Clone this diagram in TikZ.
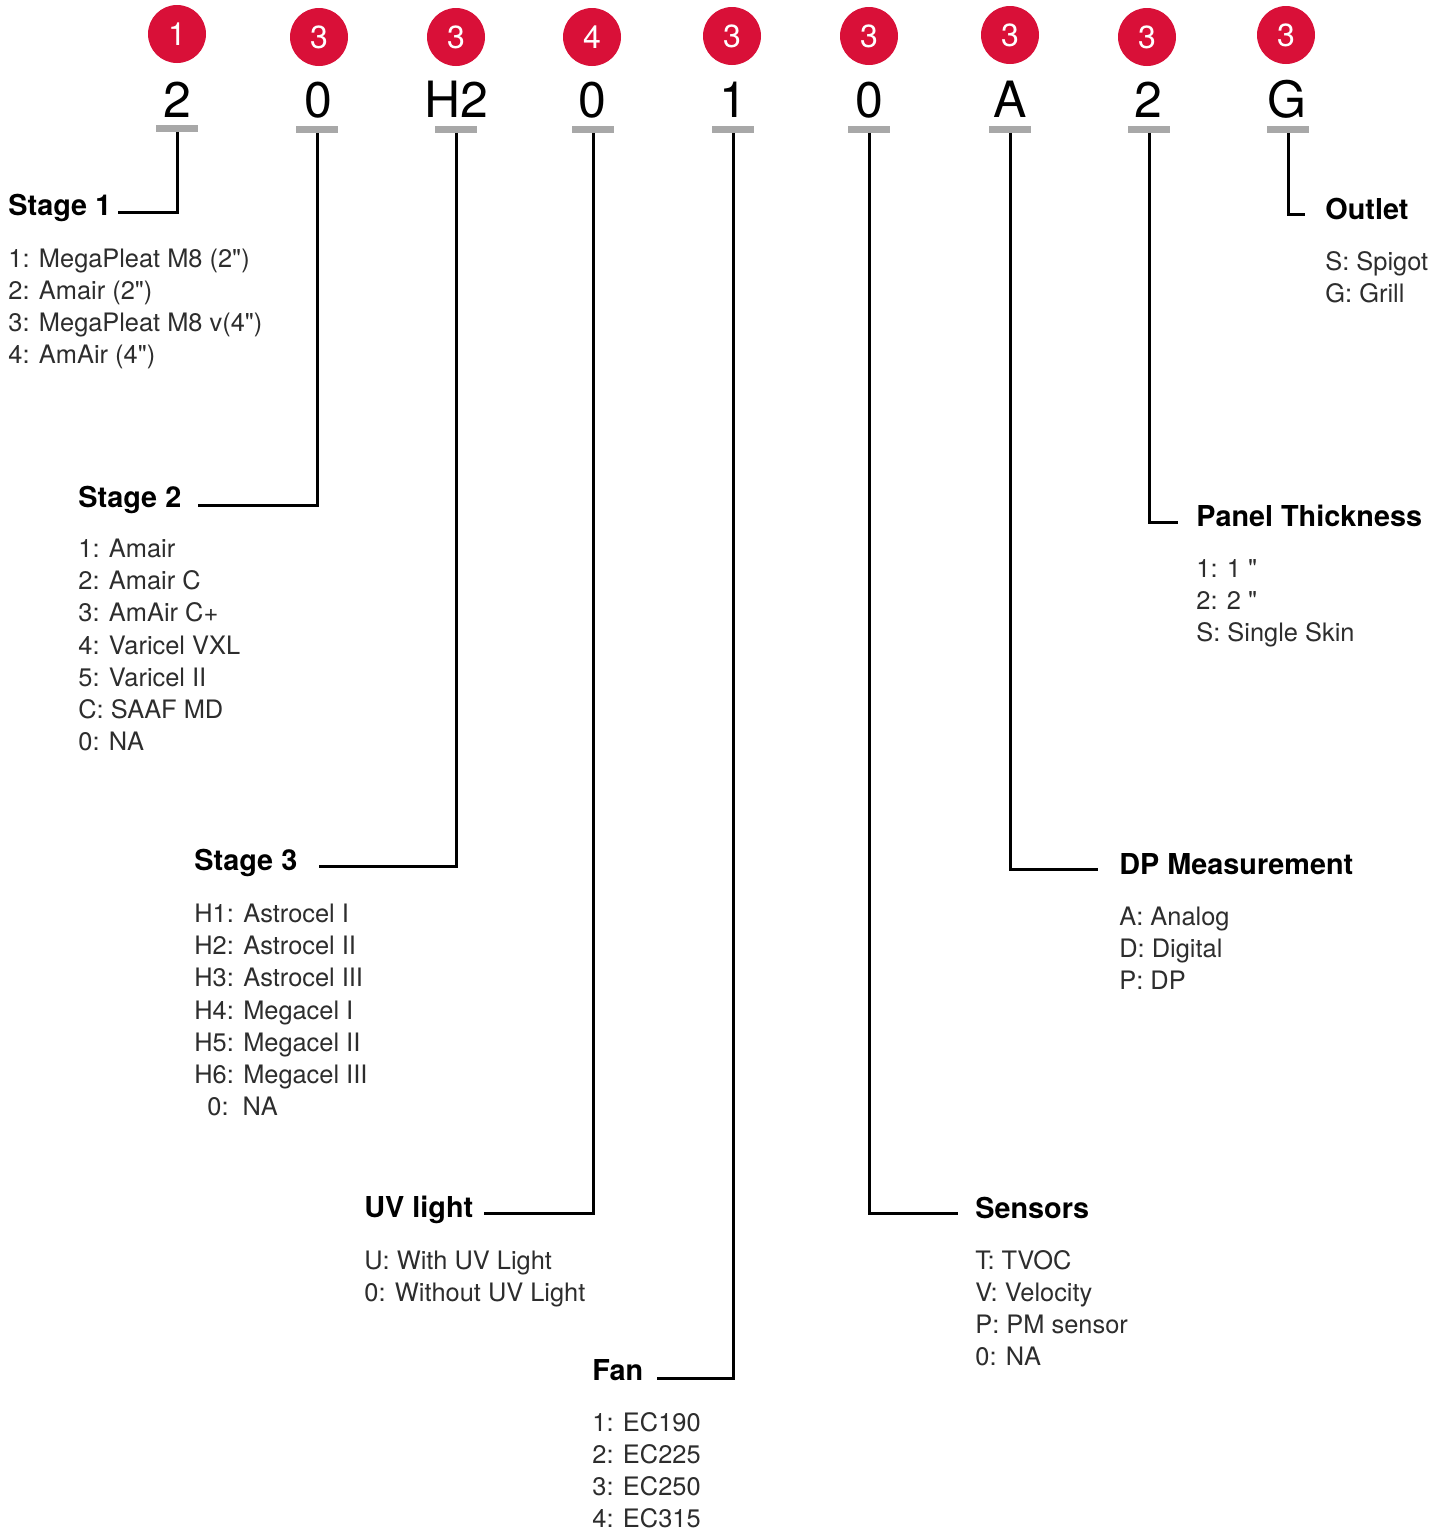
\documentclass[tikz,border=0pt]{standalone}
\usepackage{fontspec}
\setmainfont[Ligatures=TeXOff]{TeX Gyre Heros}
\definecolor{badgered}{RGB}{217,16,56}
\definecolor{bargray}{RGB}{168,168,168}
\definecolor{itemgray}{RGB}{45,45,45}
\tikzset{
  badge/.style={circle, fill=badgered, minimum size=29pt, inner sep=0pt, text=white, font=\fontsize{16}{16}\selectfont},
  codechar/.style={anchor=base, inner sep=0pt, font=\fontsize{25}{25}\selectfont},
  codebar/.style={rectangle, fill=bargray, minimum width=21pt, minimum height=3.5pt, inner sep=0pt},
  conn/.style={line width=1.5pt, black},
  grouptitle/.style={anchor=base west, inner sep=0pt, font=\fontsize{14.4}{14.4}\selectfont\bfseries},
  optitem/.style={anchor=base west, inner sep=0pt, text=itemgray, font=\fontsize{12.7}{12.7}\selectfont},
}
\newcommand{\optlist}[5]{%
  \foreach [count=\idx] \itm in {#5} {\node[optitem] (#1\idx) at ({#2},{#3+9.5+(\idx-1)*#4}) {\itm};}%
}
\begin{document}
\begin{tikzpicture}[x=0.5pt,y=-0.5pt]
\useasboundingbox[fill=white] (0,0) rectangle (1448,1533);

% badges
\node[badge] (b1) at (177,34) {1};
\node[badge] (b2) at (319,37) {3};
\node[badge] (b3) at (456,37) {3};
\node[badge] (b4) at (592,37) {4};
\node[badge] (b5) at (732,36) {3};
\node[badge] (b6) at (869,36) {3};
\node[badge] (b7) at (1010,35) {3};
\node[badge] (b8) at (1147,37) {3};
\node[badge] (b9) at (1286,35) {3};

% code characters
\node[codechar] (c1) at (177,117) {2};
\node[codechar] (c2) at (318,117) {0};
\node[codechar] (c3) at (456,117) {H2};
\node[codechar] (c4) at (592,117) {0};
\node[codechar] (c5) at (733,117) {1};
\node[codechar] (c6) at (869,117) {0};
\node[codechar] (c7) at (1010,117) {A};
\node[codechar] (c8) at (1148,117) {2};
\node[codechar] (c9) at (1287,117) {G};

% bars
\node[codebar] (r1) at (177,128) {};
\node[codebar] (r2) at (317,129) {};
\node[codebar] (r3) at (456,129) {};
\node[codebar] (r4) at (593,129) {};
\node[codebar] (r5) at (733,129) {};
\node[codebar] (r6) at (869,129) {};
\node[codebar] (r7) at (1010,129) {};
\node[codebar] (r8) at (1149,129) {};
\node[codebar] (r9) at (1288,129) {};

% titles
\node[grouptitle] (t1) at (8,215) {Stage 1};
\node[grouptitle] (t2) at (78,507) {Stage 2};
\node[grouptitle] (t3) at (194,870) {Stage 3};
\node[grouptitle] (t4) at (364,1217) {UV light};
\node[grouptitle] (t5) at (592,1380) {Fan};
\node[grouptitle] (t6) at (975,1218) {Sensors};
\node[grouptitle] (t7) at (1119,874) {DP Measurement};
\node[grouptitle] (t8) at (1196,526) {Panel Thickness};
\node[grouptitle] (t9) at (1325,219) {Outlet};

% connector ends
\coordinate (e1) at (118,212);
\coordinate (e2) at (198,505);
\coordinate (e3) at (319,866);
\coordinate (e4) at (484,1213);
\coordinate (e5) at (657,1378);
\coordinate (e6) at (958,1213);
\coordinate (e7) at (1098,869);
\coordinate (e8) at (1178,522);
\coordinate (e9) at (1305,214);

\foreach \i in {1,...,9} {\draw[conn] (r\i.south) |- (e\i);}

% option lists
\optlist{sa}{8}{258}{32}{1: MegaPleat M8 (2"),2: Amair (2"),3: MegaPleat M8 v(4"),4: AmAir (4")}
\optlist{sb}{78}{548}{32.2}{1: Amair,2: Amair C,3: AmAir C+,4: Varicel VXL,5: Varicel II,C: SAAF MD,0: NA}
\optlist{sc}{194}{913}{32.2}{H1: Astrocel I,H2: Astrocel II,H3: Astrocel III,H4: Megacel I,H5: Megacel II,H6: Megacel III}
\node[optitem] (sc7) at (207,1115.5) {0:\ \ NA};
\optlist{sd}{364}{1260}{32}{U: With UV Light,0: Without UV Light}
\optlist{se}{592}{1422}{32}{1: EC190,2: EC225,3: EC250,4: EC315}
\optlist{sf}{975}{1260}{32}{T: TVOC,V: Velocity,P: PM sensor,0: NA}
\optlist{sg}{1119}{916}{32}{A: Analog,D: Digital,P: DP}
\optlist{sh}{1196}{568}{32}{1: 1 ",2: 2 ",S: Single Skin}
\optlist{si}{1325}{261}{32}{S: Spigot,G: Grill}
\end{tikzpicture}
\end{document}
